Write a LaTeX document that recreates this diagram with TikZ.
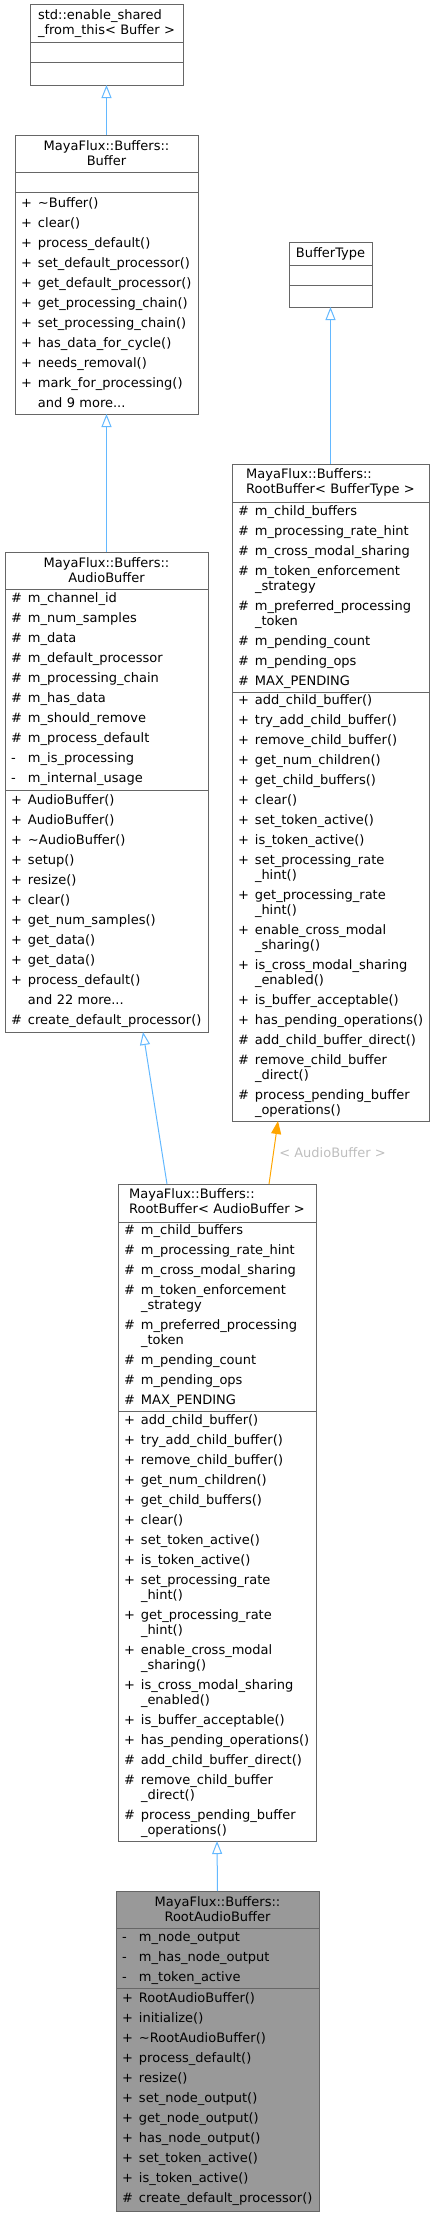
\documentclass[tikz,border=0pt]{standalone}
\usepackage{fontspec}
\setmainfont{DejaVu Sans}
\usetikzlibrary{
  positioning,
  arrows.meta,
}
\definecolor{border}{HTML}{666666}
\definecolor{fillCur}{HTML}{999999}
\definecolor{inhCol}{HTML}{63B8FF}
\definecolor{tmplCol}{HTML}{FFA500}
\definecolor{textSub}{HTML}{BEBEBE}

\newcommand{\mem}[2]{\makebox[17pt][l]{#1}#2}
\newcommand{\twoline}[2]{\begin{tabular}{@{}l@{}}#1\\#2\end{tabular}}
\newcommand{\rootAttrs}{%
  \mem{\#}{m\_child\_buffers}\\
  \mem{\#}{m\_processing\_rate\_hint}\\
  \mem{\#}{m\_cross\_modal\_sharing}\\
  \mem{\#}{m\_token\_enforcement}\\[-5pt]
  \mem{}{\_strategy}\\
  \mem{\#}{m\_preferred\_processing}\\[-5pt]
  \mem{}{\_token}\\
  \mem{\#}{m\_pending\_count}\\
  \mem{\#}{m\_pending\_ops}\\
  \mem{\#}{MAX\_PENDING}}
\newcommand{\rootOps}{%
  \mem{+}{add\_child\_buffer()}\\
  \mem{+}{try\_add\_child\_buffer()}\\
  \mem{+}{remove\_child\_buffer()}\\
  \mem{+}{get\_num\_children()}\\
  \mem{+}{get\_child\_buffers()}\\
  \mem{+}{clear()}\\
  \mem{+}{set\_token\_active()}\\
  \mem{+}{is\_token\_active()}\\
  \mem{+}{set\_processing\_rate}\\[-5pt]
  \mem{}{\_hint()}\\
  \mem{+}{get\_processing\_rate}\\[-5pt]
  \mem{}{\_hint()}\\
  \mem{+}{enable\_cross\_modal}\\[-5pt]
  \mem{}{\_sharing()}\\
  \mem{+}{is\_cross\_modal\_sharing}\\[-5pt]
  \mem{}{\_enabled()}\\
  \mem{+}{is\_buffer\_acceptable()}\\
  \mem{+}{has\_pending\_operations()}\\
  \mem{\#}{add\_child\_buffer\_direct()}\\
  \mem{\#}{remove\_child\_buffer}\\[-5pt]
  \mem{}{\_direct()}\\
  \mem{\#}{process\_pending\_buffer}\\[-5pt]
  \mem{}{\_operations()}}

\tikzset{
  umlpart/.style={
    rectangle, draw=border, fill=white, line width=1pt,
    inner xsep=6pt, inner ysep=1pt, outer sep=0pt, anchor=north,
    align=left, font=\fontsize{13}{20}\selectfont,
  },
  umltitle/.style={
    umlpart, align=center, font=\fontsize{13}{15}\selectfont,
  },
  curpart/.style={fill=fillCur},
  inherit/.style={-{Triangle[open, length=13pt, width=10pt]}, inhCol, line width=1pt},
  tmplarrow/.style={-{Triangle[length=13pt, width=10pt]}, tmplCol, line width=1pt},
  tmpllabel/.style={font=\fontsize{13}{15}\selectfont, text=textSub},
}

\begin{document}
\begin{tikzpicture}[x=1pt, y=-1pt]
  \useasboundingbox (0,0) rectangle (435,2216);

  % std::enable_shared_from_this
  \node[umltitle, text width=141pt, minimum height=38] (esft) at (106.5,5) {\twoline{std::enable\_shared}{\_from\_this< Buffer >}};
  \node[umlpart, text width=141pt, minimum height=20, below=0pt of esft] (esftA) {};
  \node[umlpart, text width=141pt, minimum height=22, below=0pt of esftA] (esftM) {};

  % Buffer
  \node[umltitle, text width=171pt, minimum height=37] (buf) at (106.5,135) {MayaFlux::Buffers::\\Buffer};
  \node[umlpart, text width=171pt, minimum height=20, below=0pt of buf] (bufA) {};
  \node[umlpart, text width=171pt, minimum height=222, below=0pt of bufA] (bufM) {
    \mem{+}{\textasciitilde Buffer()}\\
    \mem{+}{clear()}\\
    \mem{+}{process\_default()}\\
    \mem{+}{set\_default\_processor()}\\
    \mem{+}{get\_default\_processor()}\\
    \mem{+}{get\_processing\_chain()}\\
    \mem{+}{set\_processing\_chain()}\\
    \mem{+}{has\_data\_for\_cycle()}\\
    \mem{+}{needs\_removal()}\\
    \mem{+}{mark\_for\_processing()}\\
    \mem{}{and 9 more...}};

  % BufferType
  \node[umltitle, text width=71pt, minimum height=23] (bt) at (330.5,242) {BufferType};
  \node[umlpart, text width=71pt, minimum height=20, below=0pt of bt] (btA) {};
  \node[umlpart, text width=71pt, minimum height=22, below=0pt of btA] (btM) {};

  % AudioBuffer
  \node[umltitle, text width=191pt, minimum height=37] (ab) at (106.5,552) {MayaFlux::Buffers::\\AudioBuffer};
  \node[umlpart, text width=191pt, minimum height=201, below=0pt of ab] (abA) {
    \mem{\#}{m\_channel\_id}\\
    \mem{\#}{m\_num\_samples}\\
    \mem{\#}{m\_data}\\
    \mem{\#}{m\_default\_processor}\\
    \mem{\#}{m\_processing\_chain}\\
    \mem{\#}{m\_has\_data}\\
    \mem{\#}{m\_should\_remove}\\
    \mem{\#}{m\_process\_default}\\
    \mem{-}{m\_is\_processing}\\
    \mem{-}{m\_internal\_usage}};
  \node[umlpart, text width=191pt, minimum height=242, below=0pt of abA] (abM) {
    \mem{+}{AudioBuffer()}\\
    \mem{+}{AudioBuffer()}\\
    \mem{+}{\textasciitilde AudioBuffer()}\\
    \mem{+}{setup()}\\
    \mem{+}{resize()}\\
    \mem{+}{clear()}\\
    \mem{+}{get\_num\_samples()}\\
    \mem{+}{get\_data()}\\
    \mem{+}{get\_data()}\\
    \mem{+}{process\_default()}\\
    \mem{}{and 22 more...}\\
    \mem{\#}{create\_default\_processor()}};

  % RootBuffer< BufferType >
  \node[umltitle, text width=185pt, minimum height=38] (rbt) at (330.5,464) {\twoline{MayaFlux::Buffers::}{RootBuffer< BufferType >}};
  \node[umlpart, text width=185pt, minimum height=190, below=0pt of rbt] (rbtA) {\rootAttrs};
  \node[umlpart, text width=185pt, minimum height=429, below=0pt of rbtA] (rbtM) {\rootOps};

  % RootBuffer< AudioBuffer >
  \node[umltitle, text width=186pt, minimum height=38] (rba) at (217,1184) {\twoline{MayaFlux::Buffers::}{RootBuffer< AudioBuffer >}};
  \node[umlpart, text width=186pt, minimum height=189, below=0pt of rba] (rbaA) {\rootAttrs};
  \node[umlpart, text width=186pt, minimum height=430, below=0pt of rbaA] (rbaM) {\rootOps};

  % RootAudioBuffer
  \node[umltitle, curpart, text width=191pt, minimum height=37] (rab) at (217.5,1891) {MayaFlux::Buffers::\\RootAudioBuffer};
  \node[umlpart, curpart, text width=191pt, minimum height=60, below=0pt of rab] (rabA) {
    \mem{-}{m\_node\_output}\\
    \mem{-}{m\_has\_node\_output}\\
    \mem{-}{m\_token\_active}};
  \node[umlpart, curpart, text width=191pt, minimum height=223, below=0pt of rabA] (rabM) {
    \mem{+}{RootAudioBuffer()}\\
    \mem{+}{initialize()}\\
    \mem{+}{\textasciitilde RootAudioBuffer()}\\
    \mem{+}{process\_default()}\\
    \mem{+}{resize()}\\
    \mem{+}{set\_node\_output()}\\
    \mem{+}{get\_node\_output()}\\
    \mem{+}{has\_node\_output()}\\
    \mem{+}{set\_token\_active()}\\
    \mem{+}{is\_token\_active()}\\
    \mem{\#}{create\_default\_processor()}};

  % Inheritance
  \draw[inherit] (buf.north) -- (esftM.south);
  \draw[inherit] (ab.north) -- (bufM.south);
  \draw[inherit] (rbt.north) -- (btM.south);
  \draw[inherit] ([xshift=-50pt]rba.north) -- ([xshift=36.5pt]abM.south);
  \draw[tmplarrow] ([xshift=52pt]rba.north) -- ([xshift=-52.5pt]rbtM.south)
    node[tmpllabel, pos=0.5, right=2pt] (tmpl) {< AudioBuffer >};
  \draw[inherit] (rab.north) -- (rbaM.south);

\end{tikzpicture}
\end{document}
